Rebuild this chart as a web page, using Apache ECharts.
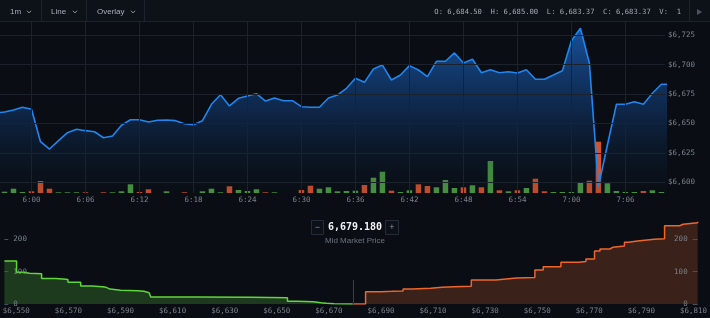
<!DOCTYPE html>
<html>
<head>
<meta charset="utf-8">
<script src="https://cdn.jsdelivr.net/npm/echarts@6/dist/echarts.min.js"></script>
<style>
  html, body { margin: 0; padding: 0; background: #0a0e14; }
  #chart { width: 710px; height: 318px; }
</style>
</head>
<body>
<div id="chart"></div>
<script>
// minutes are counted from 6:00, first candle is 5:56
const firstMinute = -4;
const tickMinutes = [0, 6, 12, 18, 24, 30, 36, 42, 48, 54, 60, 66];
const timeTicks = ["6:00", "6:06", "6:12", "6:18", "6:24", "6:30", "6:36", "6:42", "6:48", "6:54", "7:00", "7:06"];
const priceTicks = [6600, 6625, 6650, 6675, 6700, 6725];

// close price per minute, 5:56 .. 7:11
const prices = [
	6659.0, 6659.8, 6661.5, 6663.8,
	6662.1, 6634.5, 6628.3, 6635.4, 6642.2, 6645.1, 6643.9, 6643.0, 6637.9, 6639.4,
	6648.5, 6653.2, 6653.2, 6651.3, 6652.7, 6653.0, 6652.4, 6649.8, 6649.0, 6652.4,
	6666.3, 6674.5, 6664.9, 6671.4, 6673.4, 6675.3, 6669.1, 6671.7, 6669.4, 6669.4,
	6664.3, 6663.8, 6663.8, 6671.7, 6674.2, 6679.9, 6688.4, 6685.0, 6696.3, 6699.7,
	6687.0, 6691.2, 6699.2, 6695.5, 6689.8, 6702.9, 6702.9, 6710.0, 6701.4, 6704.6,
	6693.2, 6695.7, 6693.2, 6694.0, 6692.9, 6695.7, 6687.6, 6687.6, 6691.2, 6694.9,
	6720.4, 6731.0, 6701.2, 6596.3, 6631.7, 6666.3, 6666.3, 6668.5, 6666.3, 6675.7,
	6683.37, 6683.37,
];

// volume per minute and side (g = up, r = down)
const volumes = [
	0, 1.3, 4.3, 1,
	1.7, 12, 4.3, 0.7, 0.7, 0.7, 0.7, 0, 0.7, 0.7,
	1.7, 8.7, 1, 3.7, 0, 1.7, 0, 0.7, 0, 1.7,
	4.3, 0.7, 6.7, 3, 2, 3.7, 0.7, 0.7, 0, 0,
	3, 7.3, 4.3, 5.7, 1.7, 2, 2.3, 8, 15.3, 21.3,
	2.3, 1, 2.7, 8.7, 7, 5.7, 13, 5, 5.7, 7.7,
	5.7, 32, 2.7, 1.7, 2.7, 5, 14.3, 1.7, 1, 1,
	1, 10.7, 12.3, 51.3, 9.7, 2, 1, 1, 2, 2.7,
	1, 0,
];
const volumeSide = (
	"gggg" + "rrrgggrgrg" + "ggrrgggrgg" + "ggrgggrggg" + "rrgggggrgg" +
	"rggrrgggrg" + "rgrgrgrrgg" + "ggrrggggrg" + "gg"
).split("");

const lastPrice = 6683.37;
const ohlc = { O: "6,684.50", H: "6,685.00", L: "6,683.37", C: "6,683.37", V: "1" };

// order book depth: [price, cumulative size]
const bidPrices = [6545.4, 6550.1, 6553.0, 6555.0, 6559.7, 6565.0, 6567.9, 6569.8, 6574.7, 6579.0,
	6583.0, 6584.5, 6586.0, 6590.0, 6596.6, 6599.0, 6601.0, 6601.6, 6620.0, 6640.0,
	6654.1, 6658.0, 6664.1, 6667.0, 6669.1, 6672.0, 6679.18];
const bidDepth = [132.7, 97.8, 95.0, 93.5, 78.8, 77.0, 75.5, 67.0, 55.6, 53.5,
	51.5, 46.0, 42.3, 41.0, 39.2, 35.0, 30.9, 21.6, 20.5, 19.5,
	8.3, 7.0, 4.0, 2.0, 0.8, 0, 0];
const askPrices = [6679.18, 6684.1, 6690.0, 6694.1, 6698.5, 6702.0, 6709.1, 6713.5, 6718.0, 6724.7,
	6734.1, 6742.0, 6749.1, 6752.3, 6759.1, 6766.0, 6768.7, 6772.0, 6774.1, 6777.9,
	6779.0, 6783.5, 6785.0, 6788.5, 6795.0, 6798.9, 6804.7, 6806.0, 6811.6];
const askDepth = [0, 38.0, 39.0, 40.1, 46.3, 48.5, 51.5, 53.4, 54.5, 74.1,
	80.2, 82.0, 104.9, 115.1, 128.7, 131.0, 138.9, 163.6, 169.8, 175.0,
	179.0, 190.4, 194.4, 199.7, 201.5, 241.7, 246.0, 250.9, 254.0];
const depthPriceTicks = [6550, 6570, 6590, 6610, 6630, 6650, 6670, 6690, 6710, 6730, 6750, 6770, 6790, 6810];
const depthTicks = [0, 100, 200];
const midPrice = 6679.18;

const mono = "DejaVu Sans Mono";
const sans = "Liberation Sans";
const gridColor = "#1c222b";
const labelColor = "#7b818a";
const money = (v) => "$" + v.toLocaleString("en-US");

const chart = echarts.init(document.getElementById("chart"));

const priceData = prices.map((p, i) => [firstMinute + i, p]);
const volumeData = volumes.map((v, i) => ({
	value: [firstMinute + i, v],
	itemStyle: { color: volumeSide[i] === "g" ? "#4e9e43" : "#d4532d" },
}));

const toolbar = [
	{ type: "rect", shape: { x: 0, y: 0, width: 710, height: 21 }, style: { fill: "#0d1219" } },
	{ type: "line", shape: { x1: 0, y1: 21.5, x2: 710, y2: 21.5 }, style: { stroke: "#1d232c", lineWidth: 1 } },
];
[41.5, 86.5, 144.5, 689.5].forEach((x) => {
	toolbar.push({ type: "line", shape: { x1: x, y1: 0, x2: x, y2: 21 }, style: { stroke: "#1d232c", lineWidth: 1 } });
});
[["1m", 10, 29], ["Line", 51, 75], ["Overlay", 97, 133]].forEach(([t, x, cx]) => {
	toolbar.push({
		type: "text",
		style: { text: t, x: x, y: 12, fill: "#a8adb5", font: "8px " + sans, textVerticalAlign: "middle" },
	});
	toolbar.push({
		type: "polyline",
		shape: { points: [[cx - 2.2, 10.8], [cx, 12.8], [cx + 2.2, 10.8]] },
		style: { stroke: "#8a9098", lineWidth: 1, fill: null },
	});
});
toolbar.push({
	type: "text",
	style: {
		text: `O: ${ohlc.O}  H: ${ohlc.H}  L: ${ohlc.L}  C: ${ohlc.C}  V:  ${ohlc.V}`,
		x: 681, y: 12, fill: "#a3a8b0", font: "7.2px " + mono,
		textAlign: "right", textVerticalAlign: "middle",
	},
});
toolbar.push({
	type: "polygon",
	shape: { points: [[697, 9], [697, 15], [702, 12]] },
	style: { fill: "#4d535c" },
});
toolbar.forEach((g) => { g.z = 100; g.silent = true; });

const midText = midPrice.toLocaleString("en-US", { minimumFractionDigits: 3, maximumFractionDigits: 3 });
const midWidget = [
	{ type: "rect", shape: { x: 311.5, y: 220.5, width: 12, height: 14 }, style: { fill: "#0c1117", stroke: "#262c35", lineWidth: 1 } },
	{ type: "text", style: { text: "\u2212", x: 317.5, y: 227.5, fill: "#8a9098", font: "9px " + sans, textAlign: "center", textVerticalAlign: "middle" } },
	{ type: "rect", shape: { x: 385.5, y: 220.5, width: 13, height: 14 }, style: { fill: "#0c1117", stroke: "#262c35", lineWidth: 1 } },
	{ type: "text", style: { text: "+", x: 392, y: 227.5, fill: "#8a9098", font: "9px " + sans, textAlign: "center", textVerticalAlign: "middle" } },
	{ type: "text", style: { text: midText, x: 355, y: 227.5, fill: "#f0f2f5", font: "bold 10px " + mono, textAlign: "center", textVerticalAlign: "middle" } },
	{ type: "text", style: { text: "Mid Market Price", x: 355, y: 240.5, fill: "#6f757e", font: "8px " + sans, textAlign: "center", textVerticalAlign: "middle" } },
];
midWidget.forEach((g) => { g.z = 100; g.silent = true; });

const labelStyle = { color: labelColor, fontSize: 7.5, fontFamily: mono };

chart.setOption({
	backgroundColor: "#0a0e14",
	animation: false,
	textStyle: { fontFamily: mono },
	graphic: toolbar.concat(midWidget),
	grid: [
		{ left: 0, right: 45, top: 22, height: 171 },
		{ left: 0, right: 45, top: 22, height: 171 },
		{ left: 0, right: 0, top: 206.8, height: 97.2 },
	],
	xAxis: [
		{ type: "value", gridIndex: 0, min: -3.5, max: 70.4, show: false },
		{
			type: "value", gridIndex: 1, min: -3.5, max: 70.4,
			axisLine: { show: false }, axisTick: { show: false }, splitLine: { show: false },
			axisLabel: Object.assign({
				customValues: tickMinutes,
				formatter: (v) => timeTicks[tickMinutes.indexOf(v)] || "",
				margin: 3,
			}, labelStyle),
		},
		{
			type: "value", gridIndex: 2, min: 6545.4, max: 6811.6, z: 10,
			axisLine: { show: false }, axisTick: { show: false }, splitLine: { show: false },
			axisLabel: Object.assign({ customValues: depthPriceTicks, formatter: money, margin: 3 }, labelStyle),
		},
	],
	yAxis: [
		{
			type: "value", gridIndex: 0, position: "right", min: 6590.9, max: 6736.3,
			axisLine: { show: false }, axisTick: { show: false }, splitLine: { show: false },
			axisLabel: Object.assign({ customValues: priceTicks, formatter: money, margin: 3 }, labelStyle),
		},
		{ type: "value", gridIndex: 1, min: 0, max: 171, show: false },
		{
			type: "value", gridIndex: 2, position: "left", min: 0, max: 300, z: 10,
			axisLine: { show: false }, splitLine: { show: false },
			axisTick: { show: true, inside: true, length: 4, customValues: depthTicks, lineStyle: { color: "#4a5058" } },
			axisLabel: Object.assign({ inside: true, customValues: depthTicks, margin: 9 }, labelStyle),
		},
		{
			type: "value", gridIndex: 2, position: "right", min: 0, max: 300, z: 10,
			axisLine: { show: false }, splitLine: { show: false },
			axisTick: { show: true, inside: true, length: 5, customValues: depthTicks, lineStyle: { color: "#4a5058" } },
			axisLabel: Object.assign({ inside: true, customValues: depthTicks, margin: 10 }, labelStyle),
		},
	],
	series: [
		{
			// grid lines of the price panel
			type: "line", xAxisIndex: 0, yAxisIndex: 0, data: [], z: 1, silent: true,
			markLine: {
				silent: true, symbol: ["none", "none"], animation: false,
				label: { show: false },
				lineStyle: { color: gridColor, width: 1, type: "solid" },
				data: priceTicks.map((v) => ({ yAxis: v })).concat(tickMinutes.map((m) => ({ xAxis: m }))),
			},
		},
		{
			type: "bar", xAxisIndex: 1, yAxisIndex: 1, data: volumeData, barWidth: 5.5, z: 2,
		},
		{
			type: "line", xAxisIndex: 0, yAxisIndex: 0, data: priceData, z: 3,
			showSymbol: false,
			lineStyle: { color: "#1f86f0", width: 1.6 },
			areaStyle: {
				color: new echarts.graphic.LinearGradient(0, 0, 0, 1, [
					{ offset: 0, color: "rgba(32,122,236,0.9)" },
					{ offset: 0.5, color: "rgba(20,72,145,0.6)" },
					{ offset: 1, color: "rgba(10,22,40,0.15)" },
				]),
			},
			markLine: {
				silent: true, symbol: ["none", "none"], animation: false,
				data: [{
					yAxis: lastPrice,
					lineStyle: { opacity: 0 },
					label: {
						show: true, position: "end", distance: 3,
						formatter: money(lastPrice),
						color: "#5ccf3c", fontWeight: "bold", fontSize: 7.5, fontFamily: mono,
					},
				}],
			},
		},
		{
			type: "line", xAxisIndex: 2, yAxisIndex: 2, step: "end", showSymbol: false,
			data: bidPrices.map((p, i) => [p, bidDepth[i]]),
			lineStyle: { color: "#5fd63b", width: 1.5 },
			areaStyle: { color: "#1d3a1f", opacity: 1 },
		},
		{
			type: "line", xAxisIndex: 2, yAxisIndex: 2, step: "end", showSymbol: false,
			data: askPrices.map((p, i) => [p, askDepth[i]]),
			lineStyle: { color: "#f0652c", width: 1.5 },
			areaStyle: { color: "#3a221a", opacity: 1 },
			markLine: {
				silent: true, symbol: ["none", "none"], animation: false,
				label: { show: false },
				lineStyle: { color: "#3b414a", width: 1, type: "solid" },
				data: [[{ coord: [midPrice, 0] }, { coord: [midPrice, 74] }]],
			},
		},
	],
});
</script>
</body>
</html>
